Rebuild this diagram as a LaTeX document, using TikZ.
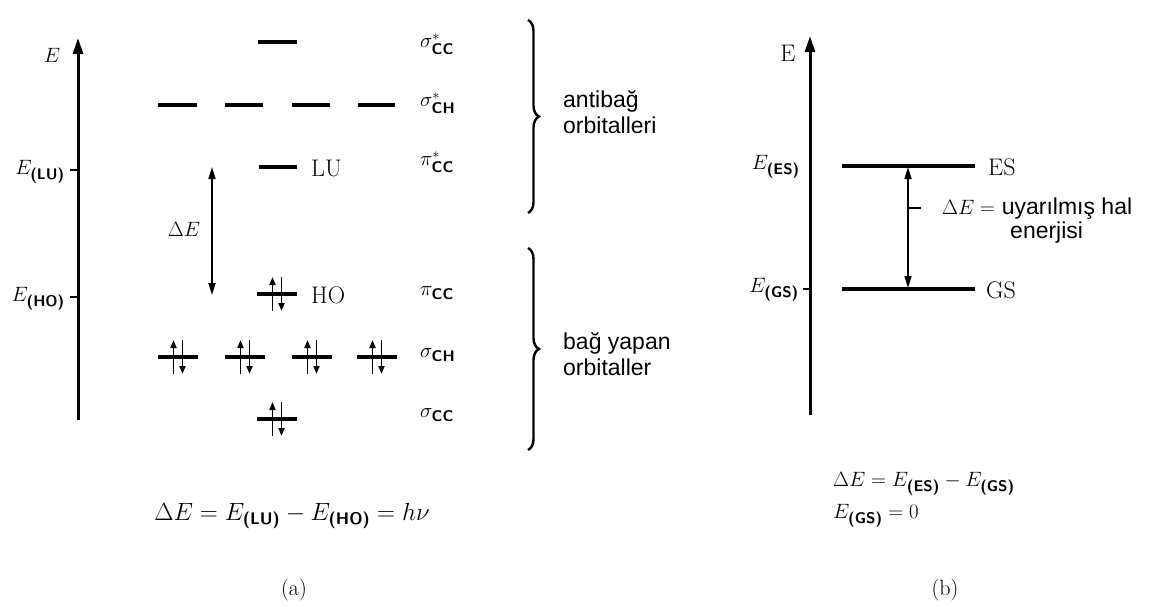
\documentclass[tikz,border=0pt]{standalone}
\usepackage{amsmath}
\usepackage{fontspec}
\newfontfamily\arialf{Liberation Sans}
\usetikzlibrary{arrows.meta,decorations.pathreplacing}
\newcommand\sbt[1]{\text{\sffamily\bfseries #1}}
\begin{document}
\begin{tikzpicture}[x=1pt,y=-1pt,
  lvl/.style={line width=3.2pt},
  axisline/.style={line width=3pt,-{Triangle[length=16pt,width=10pt]}},
  tick/.style={line width=1.8pt},
  spin/.style={line width=1.8pt,-{Triangle[length=8pt,width=6pt]}},
  dearrow/.style={line width=1.6pt,{Triangle[length=12pt,width=7pt]}-{Triangle[length=12pt,width=7pt]}},
  txt/.style={font=\fontsize{22}{26}\selectfont, inner sep=0pt},
  big/.style={font=\fontsize{24}{28}\selectfont, inner sep=0pt},
  tr/.style={font=\arialf\fontsize{23}{26}\selectfont, inner sep=0pt, align=left},
  brc/.style={decorate, decoration={brace, amplitude=11pt}, line width=2.4pt},
  spinpair/.pic={
    \draw[lvl] (-20,0) -- (20,0);
    \draw[spin] (-4.5,17) -- (-4.5,-17);
    \draw[spin] (4.5,-17) -- (4.5,17);
  }]
\useasboundingbox (0,0) rectangle (1155,606);
\fill[white] (0,0) rectangle (1155,606);

% ---------- (a) ----------
\coordinate (axLb) at (78,420);
\coordinate (axLt) at (78,38);
\draw[axisline] (axLb) -- (axLt);
\node[txt] (Ea) at (52,55) {$E$};
\coordinate (tLU) at (70,170);
\coordinate (tLUa) at (78,170);
\coordinate (tHO) at (70,297);
\coordinate (tHOa) at (78,297);
\draw[tick] (tLU) -- (tLUa);
\draw[tick] (tHO) -- (tHOa);
\node[txt,anchor=east] (ELU) at (65,172) {$E_{\sbt{(LU)}}$};
\node[txt,anchor=east] (EHO) at (65,299) {$E_{\sbt{(HO)}}$};

% antibonding levels
\draw[lvl] (258,42) -- (297,42);
\draw[lvl] (158,105) -- (197,105);
\draw[lvl] (225,105) -- (263,105);
\draw[lvl] (292,105) -- (330,105);
\draw[lvl] (358,105) -- (395,105);
\draw[lvl] (259,167) -- (297,167);
\node[big,anchor=west] (LU) at (311,168) {LU};

% Delta E arrow
\coordinate (dEt) at (212,167);
\coordinate (dEb) at (212,295);
\draw[dearrow] (dEt) -- (dEb);
\node[txt] (dE) at (184,229) {$\Delta E$};

% bonding levels
\pic at (277,294) {spinpair};
\node[big,anchor=west] (HO) at (311,295) {HO};
\pic at (178,357) {spinpair};
\pic at (245,357) {spinpair};
\pic at (312,357) {spinpair};
\pic at (377,357) {spinpair};
\pic at (277,419) {spinpair};

% orbital labels
\node[txt,anchor=west] (l1) at (420,44) {$\sigma^{*}_{\sbt{CC}}$};
\node[txt,anchor=west] (l2) at (420,103) {$\sigma^{*}_{\sbt{CH}}$};
\node[txt,anchor=west] (l3) at (420,162) {$\pi^{*}_{\sbt{CC}}$};
\node[txt,anchor=west] (l4) at (420,293) {$\pi_{\sbt{CC}}$};
\node[txt,anchor=west] (l5) at (420,355) {$\sigma_{\sbt{CH}}$};
\node[txt,anchor=west] (l6) at (420,415) {$\sigma_{\sbt{CC}}$};

% braces
\coordinate (b1t) at (528,20);
\coordinate (b1b) at (528,213);
\draw[brc] (b1t) -- (b1b);
\coordinate (b2t) at (528,248);
\coordinate (b2b) at (528,450);
\draw[brc] (b2t) -- (b2b);
\node[tr,anchor=west] (anti) at (563,112) {antibağ\\orbitalleri};
\node[tr,anchor=west] (bond) at (563,354) {bağ yapan\\orbitaller};

\node[big] (fa) at (292,516) {$\Delta E = E_{\sbt{(LU)}} - E_{\sbt{(HO)}} = h\nu$};
\node[txt] (capa) at (294,590) {(a)};

% ---------- (b) ----------
\coordinate (axRb) at (810,415);
\coordinate (axRt) at (810,36);
\draw[axisline] (axRb) -- (axRt);
\node[big] (Eb) at (788,53) {E};
\coordinate (tGS) at (803,289);
\coordinate (tGSa) at (810,289);
\draw[tick] (tGS) -- (tGSa);
\node[txt,anchor=east] (EES) at (800,167) {$E_{\sbt{(ES)}}$};
\node[txt,anchor=east] (EGS) at (799,290) {$E_{\sbt{(GS)}}$};

\coordinate (ESl) at (842,166);
\coordinate (ESr) at (975,166);
\coordinate (GSl) at (842,289);
\coordinate (GSr) at (975,289);
\draw[lvl] (ESl) -- (ESr);
\draw[lvl] (GSl) -- (GSr);
\node[big,anchor=west] (ES) at (988,167) {ES};
\node[big,anchor=west] (GS) at (986,290) {GS};

\coordinate (dE2t) at (908,167);
\coordinate (dE2b) at (908,288);
\draw[dearrow] (dE2t) -- (dE2b);
\coordinate (mk1) at (909,208);
\coordinate (mk2) at (921,208);
\draw[line width=1.8pt] (mk1) -- (mk2);
\node[txt,anchor=west] (dEb2) at (942,209) {$\Delta E =$ {\arialf\fontsize{23}{26}\selectfont uyarılmış hal}};
\node[tr,anchor=west] (ener) at (1010,233) {enerjisi};

\node[txt,anchor=west] (fb1) at (833,484) {$\Delta E = E_{\sbt{(ES)}} - E_{\sbt{(GS)}}$};
\node[txt,anchor=west] (fb2) at (833,516) {$E_{\sbt{(GS)}} = 0$};
\node[txt] (capb) at (945,590) {(b)};
\end{tikzpicture}
\end{document}
